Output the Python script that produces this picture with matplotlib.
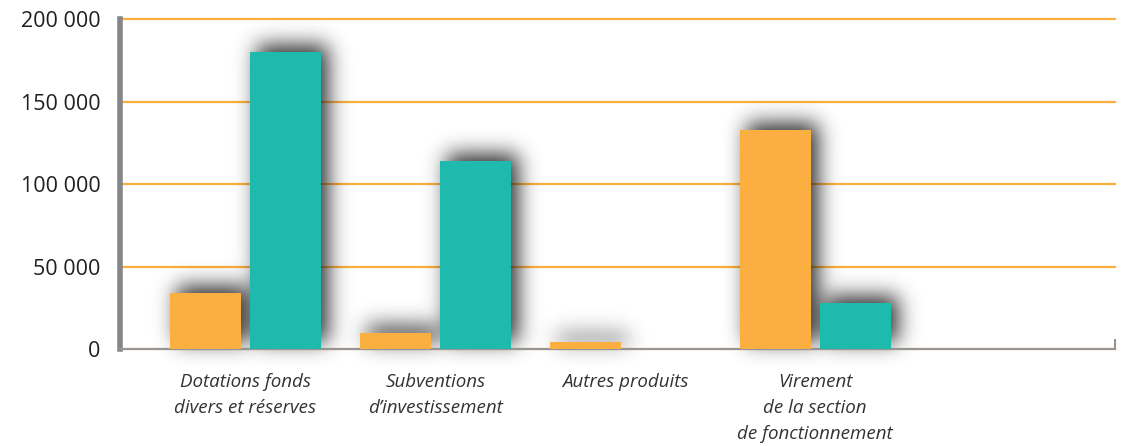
import numpy as np
import matplotlib.pyplot as plt

categories = ["Dotations fonds\ndivers et réserves", "Subventions\nd’investissement",
              "Autres produits", "Virement\nde la section\nde fonctionnement"]
serie_orange = [34000, 10000, 4000, 133000]
serie_teal = [180000, 114000, 0, 28000]
yticks = [0, 50000, 100000, 150000, 200000]
ytick_labels = ["0", "50 000", "100 000", "150 000", "200 000"]

plt.rcParams["font.family"] = ["Open Sans", "DejaVu Sans"]

fig = plt.figure(figsize=(11.27, 4.46), dpi=100)
ax = fig.add_axes([0.1065, 0.2175, 0.8825, 0.7395])

x = np.arange(len(categories))
w = 0.374
bars_o = ax.bar(x - 0.21, serie_orange, w, color="#FBAF41", zorder=3)
bars_t = ax.bar(x + 0.21, serie_teal, w, color="#1DBAAD", zorder=3)
xlim = (-0.66, 4.576)
ylim = (0, 200000)
ax.set_xlim(*xlim)
ax.set_ylim(*ylim)

# blurred drop shadow behind the bars
W, H = fig.canvas.get_width_height()
mask = np.zeros((H, W))
for b in list(bars_o) + list(bars_t):
    if b.get_height() <= 0:
        continue
    (x0, y0), (x1, y1) = ax.transData.transform(
        [(b.get_x(), 0), (b.get_x() + b.get_width(), b.get_height())])
    dx, dy = 7, 7
    c0, c1 = int(round(x0 + dx)), int(round(x1 + dx))
    r0, r1 = int(round(H - (y1 + dy))), int(round(H - (y0 + dy)))
    mask[r0:r1, c0:c1] = 1
sigma = 10.5
k = np.exp(-0.5 * (np.arange(-35, 36) / sigma) ** 2)
k /= k.sum()
mask = np.apply_along_axis(lambda r: np.convolve(r, k, mode="same"), 1, mask)
mask = np.apply_along_axis(lambda c: np.convolve(c, k, mode="same"), 0, mask)
img = np.zeros((H, W, 4))
img[..., :3] = 0.1
img[..., 3] = np.clip(mask * 0.92, 0, 1)
inv = ax.transData.inverted()
(xa, ya), (xb, yb) = inv.transform([(0, 0), (W, H)])
ax.imshow(img, extent=(xa, xb, ya, yb), origin="upper", aspect="auto",
          zorder=1.5, clip_on=False, interpolation="bilinear")
ax.set_xlim(*xlim)
ax.set_ylim(*ylim)

ax.set_yticks(yticks, ytick_labels)
ax.yaxis.grid(True, color="#FBAE3C", linewidth=1.6)
ax.set_axisbelow(True)
for line in ax.get_ygridlines():
    line.set_clip_on(False)
ax.tick_params(axis="y", length=0, pad=14, labelsize=15.5, labelcolor="#231f20")

ax.set_xticks(x, categories, fontstyle="italic", fontsize=13.5, color="#333333",
              linespacing=1.6)
ax.tick_params(axis="x", length=0, pad=17)
ax.set_xticks([xlim[1]], minor=True)
ax.tick_params(axis="x", which="minor", direction="in", length=7, width=1.5, color="#939598")

ax.spines["top"].set_visible(False)
ax.spines["right"].set_visible(False)
ax.spines["left"].set_color("#858689")
ax.spines["left"].set_linewidth(4)
ax.spines["bottom"].set_color("#939598")
ax.spines["bottom"].set_linewidth(1.5)

fig.savefig("out.png", dpi=100)
